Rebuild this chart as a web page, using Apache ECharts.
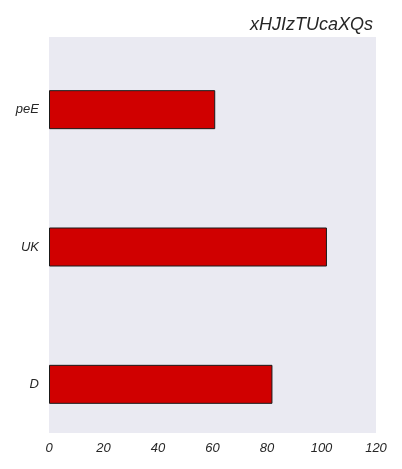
<!DOCTYPE html>
<html>
<head>
<meta charset="utf-8">
<script src="https://cdn.jsdelivr.net/npm/echarts@6/dist/echarts.min.js"></script>
<style>
html, body { margin: 0; padding: 0; background: #fff; }
#main { width: 402px; height: 469px; }
</style>
</head>
<body>
<div id="main"></div>
<script>
var categories = ['D', 'UK', 'peE'];
var values = [82, 102, 61];
var xTicks = [0, 20, 40, 60, 80, 100, 120];

var labelFont = {
    fontFamily: 'Liberation Sans',
    fontStyle: 'italic',
    fontSize: 13,
    color: '#262626'
};

var myChart = echarts.init(document.getElementById('main'));
var option = {
    backgroundColor: '#ffffff',
    animation: false,
    title: {
        text: 'xHJIzTUcaXQs',
        right: 24,
        top: 11,
        textStyle: {
            fontFamily: 'Liberation Sans',
            fontStyle: 'italic',
            fontWeight: 'normal',
            fontSize: 18,
            color: '#262626'
        }
    },
    // grid 0: the visible plot area with the x axis
    // grid 1: category band for the bars (matplotlib margins are a bit uneven)
    grid: [{
        left: 49,
        right: 26,
        top: 37,
        bottom: 36,
        show: true,
        backgroundColor: '#eaeaf2',
        borderWidth: 0
    }, {
        left: 49,
        right: 26,
        top: 41,
        bottom: 16
    }],
    xAxis: [{
        type: 'value',
        gridIndex: 0,
        min: xTicks[0],
        max: xTicks[xTicks.length - 1],
        interval: 20,
        axisLine: { show: false },
        axisTick: { show: false },
        splitLine: { show: false },
        axisLabel: Object.assign({ margin: 9 }, labelFont)
    }, {
        type: 'value',
        gridIndex: 1,
        min: xTicks[0],
        max: xTicks[xTicks.length - 1],
        show: false
    }],
    yAxis: [{
        type: 'value',
        gridIndex: 0,
        show: false
    }, {
        type: 'category',
        gridIndex: 1,
        data: categories,
        axisLine: { show: false },
        axisTick: { show: false },
        splitLine: { show: false },
        axisLabel: Object.assign({ margin: 10 }, labelFont)
    }],
    series: [{
        type: 'bar',
        xAxisIndex: 1,
        yAxisIndex: 1,
        data: values,
        barWidth: 39,
        itemStyle: {
            color: '#d00000',
            borderColor: '#1a1a1a',
            borderWidth: 1
        }
    }]
};
myChart.setOption(option);
</script>
</body>
</html>
